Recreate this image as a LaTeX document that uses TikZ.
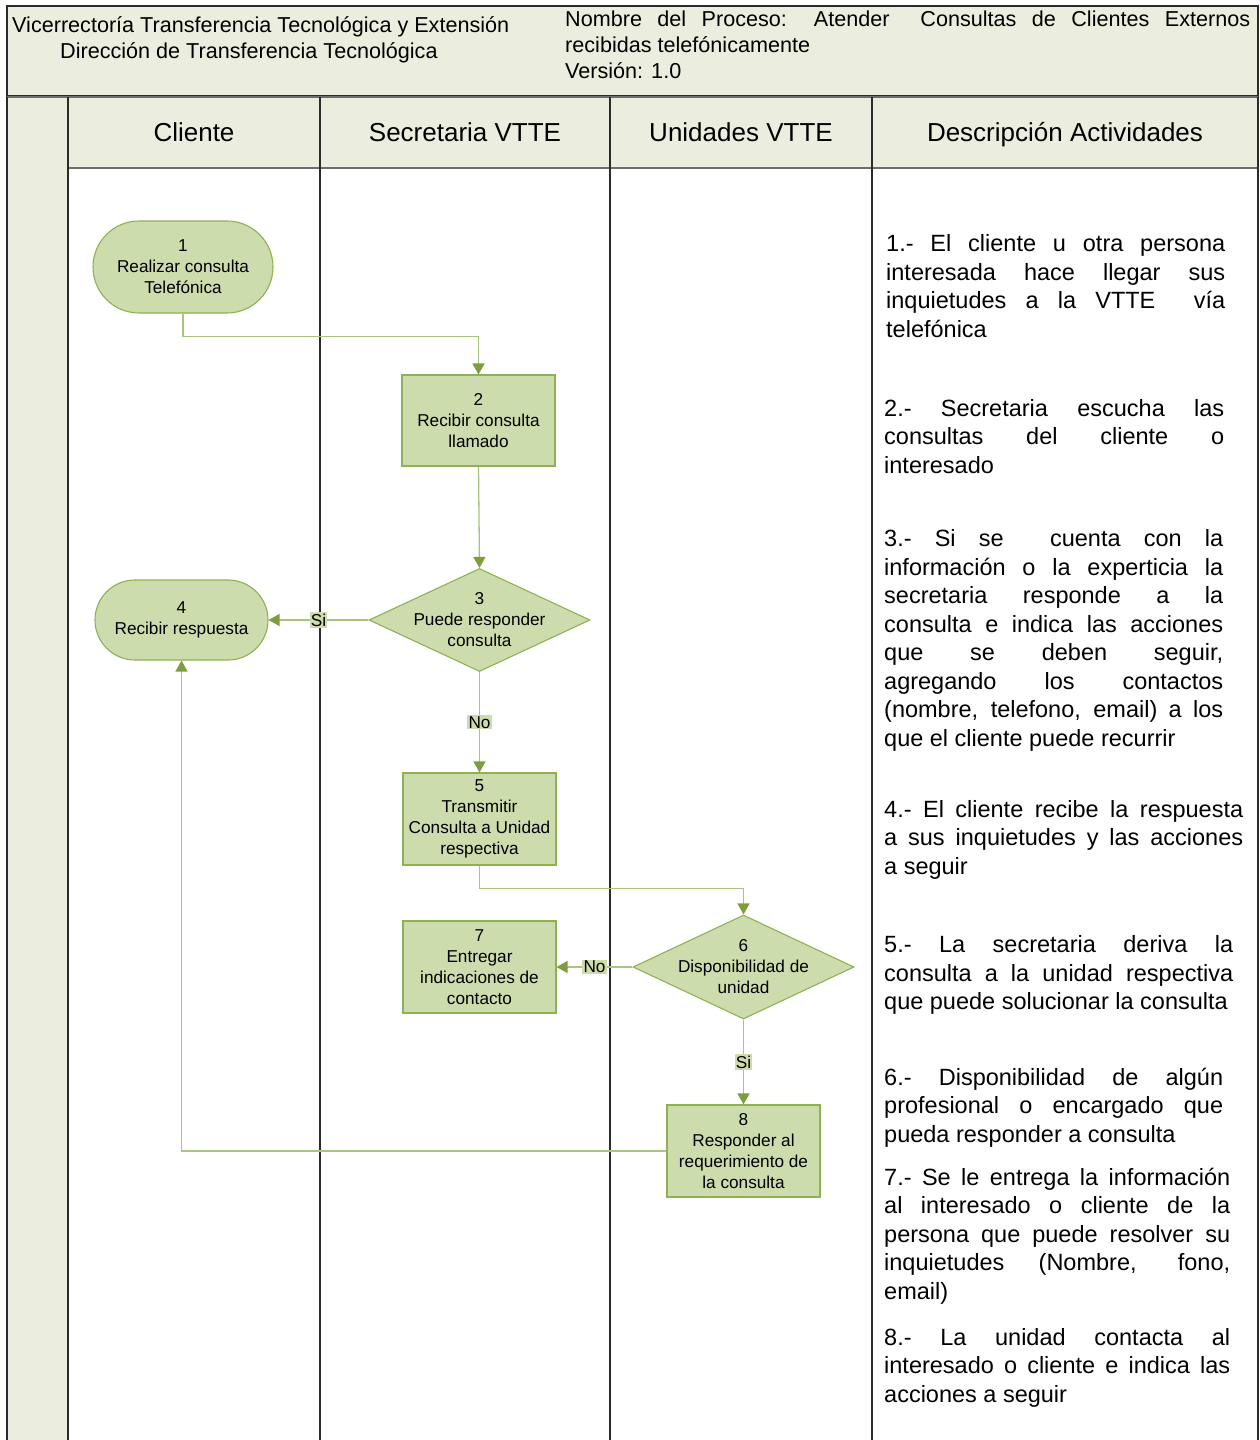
\documentclass[tikz,border=0pt]{standalone}
\usepackage{fontspec}
\setmainfont{Liberation Sans}
\usetikzlibrary{shapes.geometric,shapes.misc,arrows.meta}

\definecolor{hdrfill}{HTML}{EBEEDE}
\definecolor{nodefill}{HTML}{CDDCAC}
\definecolor{nodeline}{HTML}{8FB055}
\definecolor{flow}{HTML}{A8C47E}
\definecolor{tipc}{HTML}{7E9E3E}
\definecolor{framec}{HTML}{2B2B2B}
\definecolor{rulec}{HTML}{6E6E6E}

% loose justification for forced line breaks, no hyphenation
\newcommand{\loosepar}{\hyphenpenalty=10000\relax\tolerance=10000\relax\hbadness=10000\relax}

\begin{document}
\begin{tikzpicture}[x=1pt,y=-1pt,
  frameline/.style={draw=framec,line width=1.8pt},
  ruleline/.style={draw=rulec,line width=1.6pt},
  flowtext/.style={font=\fontsize{17.2}{21}\selectfont,align=center,text=black},
  term/.style={rounded rectangle,draw=nodeline,fill=nodefill,line width=1.1pt,
    inner sep=0pt,flowtext},
  proc/.style={rectangle,draw=nodeline,fill=nodefill,line width=1.1pt,
    inner sep=0pt,minimum width=153,minimum height=91,flowtext},
  decide/.style={diamond,draw=nodeline,fill=nodefill,line width=1.1pt,
    inner sep=0pt,minimum width=221,minimum height=103},
  flowline/.style={draw=flow,line width=1.3pt,
    -{Triangle[length=11pt,width=12pt,color=tipc]}},
  lbl/.style={fill=nodefill,inner sep=1.2pt,font=\fontsize{17.2}{21}\selectfont},
  hdrtext/.style={font=\fontsize{21.6}{26.3}\selectfont,inner sep=0pt},
  lanetitle/.style={font=\fontsize{26}{30}\selectfont,inner sep=0pt,anchor=base},
  desc/.style={font=\fontsize{23.5}{28.55}\selectfont\loosepar,
    inner sep=0pt,align=justify,anchor=base west}
]
\useasboundingbox (0,0) rectangle (1260,1440);
\fill[white] (0,0) rectangle (1260,1440);

% ---- title block ----
\fill[hdrfill] (7,6) rectangle (1258,96);
\draw[draw=framec,line width=1.2pt] (7,6) rectangle (1258,96);
\node[hdrtext,anchor=base west] (t1) at (12,32)
  {Vicerrectoría Transferencia Tecnológica y Extensión};
\node[hdrtext,anchor=base west] (t2) at (60,58)
  {Dirección de Transferencia Tecnológica};
\node[hdrtext,anchor=base west,text width=685pt,align=justify,
  font=\fontsize{21.6}{26.3}\selectfont\loosepar] (t3) at (565,26)
  {Nombre del Proceso: Atender\ \ Consultas de Clientes Externos\linebreak
   recibidas telefónicamente\par Versión: 1.0};

% ---- swimlane frame ----
\fill[hdrfill] (7,97) rectangle (68,1440);
\fill[hdrfill] (68,97) rectangle (1258,168);
\draw[ruleline] (7,97) -- (1258,97);
\draw[ruleline] (68,168) -- (1258,168);
\draw[frameline] (7,97) -- (7,1440);
\draw[frameline] (68,97) -- (68,1440);
\draw[frameline] (320,97) -- (320,1440);
\draw[frameline] (610,97) -- (610,1440);
\draw[frameline] (872,97) -- (872,1440);
\draw[frameline] (1258,97) -- (1258,1440);

\node[lanetitle] (l1) at (194,141) {Cliente};
\node[lanetitle] (l2) at (465,141) {Secretaria VTTE};
\node[lanetitle] (l3) at (741,141) {Unidades VTTE};
\node[lanetitle] (l4) at (1065,141) {Descripción Actividades};

% ---- flow nodes ----
\node[term,minimum width=180,minimum height=92] (n1) at (183,267)
  {1\\Realizar consulta\\Telefónica};
\node[proc] (n2) at (478.5,420.5) {2\\Recibir consulta\\llamado};
\node[decide] (d3) at (479.5,620) {};
\node[flowtext] (d3t) at (d3.center) {3\\Puede responder\\consulta};
\node[term,minimum width=173,minimum height=80] (n4) at (181.5,620)
  {4\\Recibir respuesta};
\node[proc,minimum height=92] (n5) at (479.5,819)
  {5\\Transmitir\\Consulta a Unidad\\respectiva};
\node[decide,minimum height=104] (d6) at (743.5,967) {};
\node[flowtext] (d6t) at (d6.center) {6\\Disponibilidad de\\unidad};
\node[proc,minimum height=92] (n7) at (479.5,967)
  {7\\Entregar\\indicaciones de\\contacto};
\node[proc,minimum height=92] (n8) at (743.5,1151)
  {8\\Responder al\\requerimiento de\\la consulta};

% ---- connectors ----
\draw[flowline] (n1.south) -- ++(0,23) -| (n2.north);
\draw[flowline] (n2.south) -- (d3.north);
\draw[flowline] (d3.west) -- node[lbl] (s1) {Si} (n4.east);
\draw[flowline] (d3.south) -- node[lbl] (s2) {No} (n5.north);
\draw[flowline] (n5.south) -- ++(0,23) -| (d6.north);
\draw[flowline] (d6.west) -- node[lbl] (s3) {No} (n7.east);
\draw[flowline] (d6.south) -- node[lbl] (s4) {Si} (n8.north);
\draw[flowline] (n8.west) -| (n4.south);

% ---- activity descriptions ----
\node[desc,text width=339pt] (a1) at (886,251.5)
  {1.- El cliente u otra persona\linebreak interesada hace llegar sus\linebreak
   inquietudes a la VTTE\ \ vía\linebreak telefónica};
\node[desc,text width=340pt] (a2) at (884,416)
  {2.- Secretaria escucha las\linebreak consultas del cliente o\linebreak interesado};
\node[desc,text width=339pt] (a3) at (884,546.5)
  {3.- Si se\ \ cuenta con la\linebreak información o la experticia la\linebreak
   secretaria responde a la\linebreak consulta e indica las acciones\linebreak
   que se deben seguir,\linebreak agregando los contactos\linebreak
   (nombre, telefono, email) a los\linebreak que el cliente puede recurrir};
\node[desc,text width=359pt] (a4) at (884,817)
  {4.- El cliente recibe la respuesta\linebreak a sus inquietudes y las acciones\linebreak a seguir};
\node[desc,text width=349pt] (a5) at (884,952.5)
  {5.- La secretaria deriva la\linebreak consulta a la unidad respectiva\linebreak
   que puede solucionar la consulta};
\node[desc,text width=339pt] (a6) at (884,1085)
  {6.- Disponibilidad de algún\linebreak profesional o encargado que\linebreak
   pueda responder a consulta};
\node[desc,text width=346pt] (a7) at (884,1185)
  {7.- Se le entrega la información\linebreak al interesado o cliente de la\linebreak
   persona que puede resolver su\linebreak inquietudes (Nombre, fono,\linebreak email)};
\node[desc,text width=346pt] (a8) at (884,1345)
  {8.- La unidad contacta al\linebreak interesado o cliente e indica las\linebreak
   acciones a seguir};
\end{tikzpicture}
\end{document}
